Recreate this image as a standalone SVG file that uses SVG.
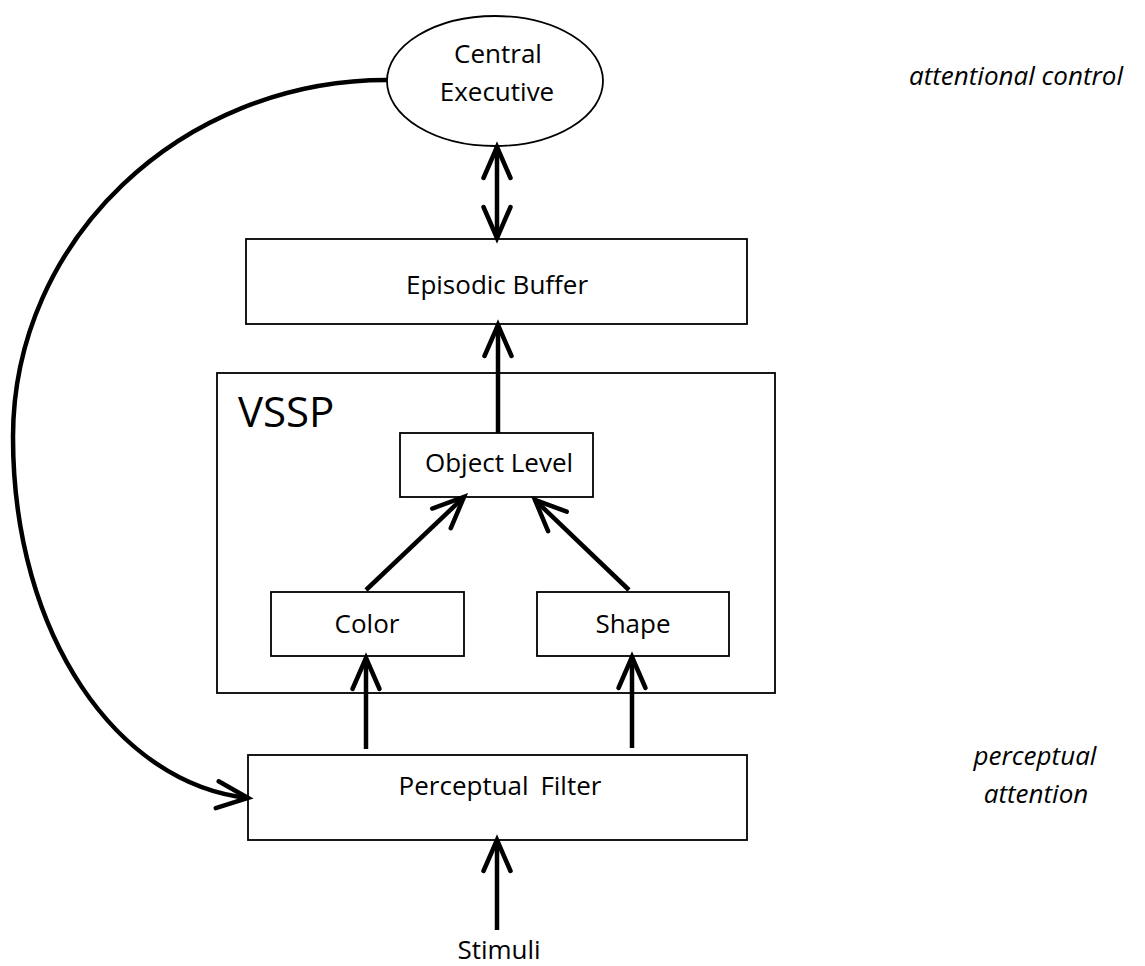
<svg xmlns="http://www.w3.org/2000/svg" width="1145" height="966" viewBox="0 0 1145 966">
<style>
.box{fill:#fff;stroke:#000;stroke-width:1.8}
.lbl{font-family:"Open Sans","Liberation Sans",sans-serif;font-size:26px;fill:#000;text-anchor:middle}
.it{font-family:"Open Sans","Liberation Sans",sans-serif;font-size:26px;font-style:italic;fill:#000;text-anchor:middle}
.con{fill:none;stroke:#000;stroke-width:4.5}
</style>
<defs>
<marker id="ah" viewBox="-36 -18 40 36" refX="0" refY="0" markerWidth="40" markerHeight="36" markerUnits="userSpaceOnUse" orient="auto-start-reverse" overflow="visible">
<path d="M -31 -13.5 L 0 0 L -31 13.5" fill="none" stroke="#000" stroke-width="4.5" stroke-linecap="round" stroke-linejoin="miter"/>
</marker>
</defs>
<rect width="1145" height="966" fill="#fff"/>
<g id="vssp">
<rect class="box" x="217" y="373" width="558" height="320"/>
<text x="238" y="427" font-family="'Open Sans','Liberation Sans',sans-serif" font-size="42" fill="#000">VSSP</text>
</g>
<g id="central-executive">
<ellipse class="box" cx="495" cy="81" rx="108" ry="65"/>
<text class="lbl" x="498" y="63">Central</text>
<text class="lbl" x="497" y="101">Executive</text>
</g>
<g id="episodic-buffer">
<rect class="box" x="246" y="239" width="501" height="85"/>
<text class="lbl" x="497" y="294">Episodic Buffer</text>
</g>
<g id="object-level">
<rect class="box" x="400" y="433" width="193" height="64"/>
<text class="lbl" x="499" y="472">Object Level</text>
</g>
<g id="color">
<rect class="box" x="271" y="592" width="193" height="64"/>
<text class="lbl" x="367" y="633">Color</text>
</g>
<g id="shape">
<rect class="box" x="537" y="592" width="192" height="64"/>
<text class="lbl" x="633" y="633">Shape</text>
</g>
<g id="perceptual-filter">
<rect class="box" x="248" y="755" width="499" height="85"/>
<text class="lbl" x="500" y="795" word-spacing="5">Perceptual Filter</text>
</g>
<g id="stimuli">
<text class="lbl" x="499" y="959">Stimuli</text>
</g>
<g id="attentional-control">
<text class="it" x="1016" y="85">attentional control</text>
</g>
<g id="perceptual-attention">
<text class="it" x="1035" y="765">perceptual</text>
<text class="it" x="1036" y="803">attention</text>
</g>
<g id="connectors">
<path class="con" d="M 497 147 L 497 238" marker-start="url(#ah)" marker-end="url(#ah)"/>
<path class="con" d="M 498 433 L 498 325" marker-end="url(#ah)"/>
<path class="con" d="M 366 590 L 464 497" marker-end="url(#ah)"/>
<path class="con" d="M 629 590 L 535 500" marker-end="url(#ah)"/>
<path class="con" d="M 366 749 L 366 658" marker-end="url(#ah)"/>
<path class="con" d="M 632 748 L 632 657" marker-end="url(#ah)"/>
<path class="con" d="M 497 930 L 497 840" marker-end="url(#ah)"/>
<path class="con" d="M 387 80 C 181 80 13 240 13 437 C 13 636 118 784 248 798" marker-end="url(#ah)"/>
</g>
</svg>
